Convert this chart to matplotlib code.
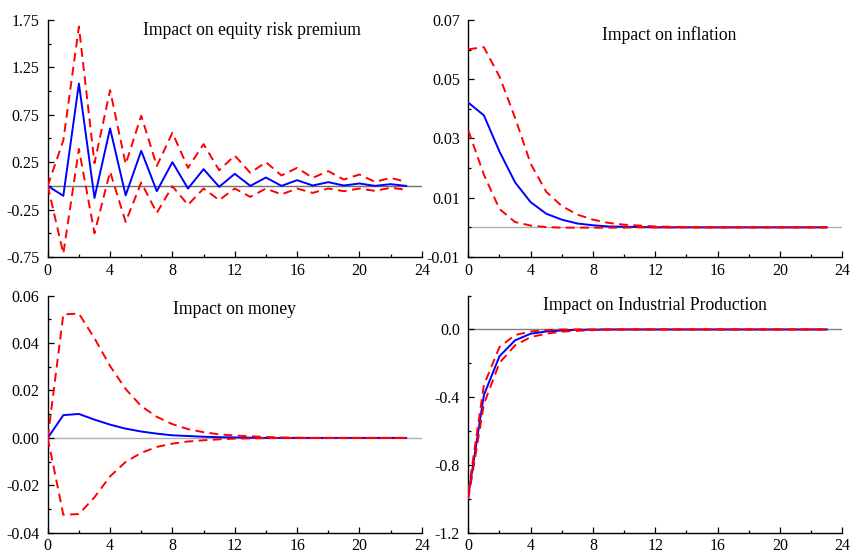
import matplotlib
matplotlib.use("Agg")
import matplotlib.pyplot as plt
from matplotlib.ticker import MultipleLocator, FuncFormatter

plt.rcParams['font.family'] = ['Liberation Serif', 'DejaVu Serif']

horizon = list(range(24))

erp_mid = [0.0, -0.105, 1.08, -0.127, 0.606, -0.10, 0.37, -0.056, 0.25, -0.028, 0.176, -0.01,
           0.127, 0.0, 0.088, 0.0, 0.06, 0.004, 0.039, 0.004, 0.025, 0.0, 0.018, 0.0]
erp_up = [0.0, 0.48, 1.68, 0.24, 1.01, 0.23, 0.74, 0.21, 0.56, 0.19, 0.44, 0.165,
          0.32, 0.137, 0.25, 0.11, 0.19, 0.085, 0.155, 0.067, 0.12, 0.042, 0.085, 0.042]
erp_lo = [0.0, -0.715, 0.39, -0.50, 0.15, -0.38, 0.035, -0.285, -0.004, -0.20, -0.028, -0.15,
          -0.028, -0.116, -0.028, -0.09, -0.028, -0.074, -0.028, -0.056, -0.028, -0.053, -0.02, -0.04]

inf_mid = [0.0421, 0.0378, 0.0256, 0.0152, 0.0085, 0.0046, 0.0026, 0.0013, 0.0007, 0.0003, 0.0002, 0.0001,
           0.0, 0.0, 0.0, 0.0, 0.0, 0.0, 0.0, 0.0, 0.0, 0.0, 0.0, 0.0]
inf_up = [0.0601, 0.0608, 0.0509, 0.037, 0.0215, 0.012, 0.0072, 0.0043, 0.0026, 0.0015, 0.0009, 0.0006,
          0.0003, 0.0002, 0.0001, 0.0, 0.0, 0.0, 0.0, 0.0, 0.0, 0.0, 0.0, 0.0]
inf_lo = [0.0327, 0.0178, 0.0062, 0.0018, 0.0006, 0.0001, -0.0001, -0.0001, -0.0001, -0.0001, -0.0001, 0.0,
          0.0, 0.0, 0.0, 0.0, 0.0, 0.0, 0.0, 0.0, 0.0, 0.0, 0.0, 0.0]

mon_mid = [0.0, 0.0096, 0.0101, 0.0077, 0.0056, 0.0039, 0.0027, 0.0018, 0.0011, 0.0008, 0.0005, 0.0003,
           0.0002, 0.0001, 0.0, 0.0, 0.0, 0.0, 0.0, 0.0, 0.0, 0.0, 0.0, 0.0]
mon_up = [0.0, 0.0521, 0.0524, 0.042, 0.0303, 0.0206, 0.0134, 0.0089, 0.0058, 0.0037, 0.0024, 0.0015,
          0.001, 0.0007, 0.0004, 0.0002, 0.0001, 0.0, 0.0, 0.0, 0.0, 0.0, 0.0, 0.0]
mon_lo = [0.0, -0.0324, -0.0321, -0.025, -0.0162, -0.0101, -0.0063, -0.0038, -0.0024, -0.0015, -0.001, -0.0006,
          -0.0003, -0.0002, -0.0001, 0.0, 0.0, 0.0, 0.0, 0.0, 0.0, 0.0, 0.0, 0.0]

ip_mid = [-0.982, -0.387, -0.158, -0.064, -0.025, -0.012, -0.006, -0.002, -0.001, 0.0, 0.0, 0.0,
          0.0, 0.0, 0.0, 0.0, 0.0, 0.0, 0.0, 0.0, 0.0, 0.0, 0.0, 0.0]
ip_up = [-0.96, -0.328, -0.104, -0.033, -0.012, -0.004, 0.0, 0.0, 0.0, 0.0, 0.0, 0.0,
         0.0, 0.0, 0.0, 0.0, 0.0, 0.0, 0.0, 0.0, 0.0, 0.0, 0.0, 0.0]
ip_lo = [-1.0, -0.44, -0.197, -0.094, -0.045, -0.025, -0.013, -0.008, -0.004, -0.001, 0.0, 0.0,
         0.0, 0.0, 0.0, 0.0, 0.0, 0.0, 0.0, 0.0, 0.0, 0.0, 0.0, 0.0]

titles = ["Impact on equity risk premium", "Impact on inflation",
          "Impact on money", "Impact on Industrial Production"]

erp_ticks = [1.75, 1.25, 0.75, 0.25, -0.25, -0.75]
inf_ticks = [0.07, 0.05, 0.03, 0.01, -0.01]
mon_ticks = [0.06, 0.04, 0.02, 0.0, -0.02, -0.04]
ip_ticks = [0.0, -0.4, -0.8, -1.2]

panels = [
    dict(mid=erp_mid, up=erp_up, lo=erp_lo, ylim=(-0.75, 1.75), ticks=erp_ticks, minor=0.25, fmt="{:.2f}",
         rect=[0.0561, 0.5353, 0.4395, 0.4286], tpos=(0.546, 0.954), zc='#707070'),
    dict(mid=inf_mid, up=inf_up, lo=inf_lo, ylim=(-0.01, 0.07), ticks=inf_ticks, minor=0.01, fmt="{:.2f}",
         rect=[0.5503, 0.5353, 0.4395, 0.4286], tpos=(0.536, 0.937), zc='#b0b0b0'),
    dict(mid=mon_mid, up=mon_up, lo=mon_lo, ylim=(-0.04, 0.06), ticks=mon_ticks, minor=0.01, fmt="{:.2f}",
         rect=[0.0561, 0.0365, 0.4395, 0.429], tpos=(0.5, 0.94), zc='#b0b0b0'),
    dict(mid=ip_mid, up=ip_up, lo=ip_lo, ylim=(-1.2, 0.2), ticks=ip_ticks, minor=0.2, fmt="{:.1f}",
         rect=[0.5503, 0.0365, 0.4395, 0.429], tpos=(0.5, 0.958), zc='#808080'),
]

fig = plt.figure(figsize=(8.51, 5.53), dpi=100)


def make_fmt(f):
    def _fmt(v, pos):
        if abs(v) < 1e-9:
            v = 0.0
        return f.format(v)
    return FuncFormatter(_fmt)


for p, title in zip(panels, titles):
    ax = fig.add_axes(p['rect'])
    ax.axhline(0, color=p['zc'], lw=1.0, zorder=1)
    ax.plot(horizon, p['mid'], color='#0000ff', lw=1.4, zorder=3)
    ax.plot(horizon, p['up'], color='#ff0000', lw=1.4, dashes=(4.5, 2.8), zorder=4)
    ax.plot(horizon, p['lo'], color='#ff0000', lw=1.4, dashes=(4.5, 2.8), zorder=4)
    ax.set_xlim(0, 24)
    ax.set_ylim(*p['ylim'])
    ax.xaxis.set_major_locator(MultipleLocator(4))
    ax.xaxis.set_minor_locator(MultipleLocator(2))
    ax.set_yticks(p['ticks'])
    ax.yaxis.set_minor_locator(MultipleLocator(p['minor']))
    ax.yaxis.set_major_formatter(make_fmt(p['fmt']))
    for s in ('top', 'right'):
        ax.spines[s].set_visible(False)
    for s in ('left', 'bottom'):
        ax.spines[s].set_linewidth(1.0)
    ax.tick_params(which='major', direction='in', length=4.3, width=0.9, labelsize=11.5,
                   colors='black')
    ax.tick_params(axis='y', which='major', pad=6)
    ax.tick_params(axis='x', which='major', pad=4)
    ax.tick_params(which='minor', direction='in', length=2.4, width=0.9)
    ax.text(p['tpos'][0], p['tpos'][1], title, transform=ax.transAxes, ha='center', va='center',
            fontsize=12.7)
    ax.set_facecolor('none')

fig.savefig('out.png', dpi=100)
